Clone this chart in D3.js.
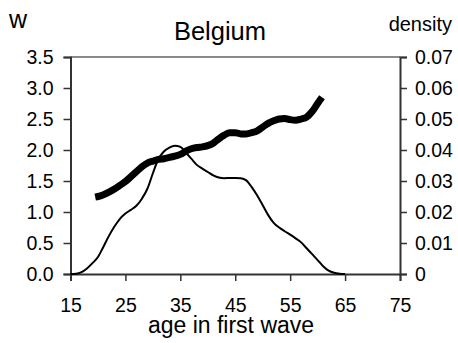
<!DOCTYPE html>
<html>
<head>
<meta charset="utf-8">
<script src="https://cdn.jsdelivr.net/npm/d3@7"></script>
<style>
html,body{margin:0;padding:0;background:#fff;}
svg{display:block;font-family:"Liberation Sans",Arial,sans-serif;}
</style>
</head>
<body>
<svg id="chart" width="458" height="343"></svg>
<script>
// Data
const wAges = [19.5,20,21,22,23,24,25,26,27,28,29,30,31,32,33,34,35,36,37,38,39,40,41,42,43,44,45,46,47,48,49,50,51,52,53,54,55,56,57,58,59,60,60.8];
const wValues = [1.24,1.25,1.28,1.32,1.37,1.43,1.49,1.57,1.65,1.73,1.79,1.82,1.85,1.86,1.88,1.90,1.93,1.98,2.02,2.04,2.05,2.07,2.11,2.18,2.24,2.28,2.28,2.26,2.26,2.28,2.31,2.37,2.43,2.47,2.50,2.51,2.49,2.48,2.50,2.53,2.62,2.75,2.85];
const densityAges = [15,16,17,18,19,20,21,22,23,24,25,26,27,28,29,30,31,32,33,34,35,36,37,38,39,40,41,42,43,44,45,46,47,48,49,50,51,52,53,54,55,56,57,58,59,60,61,62,63,64,65];
const densityValues = [0,0.0001,0.0006,0.0018,0.0035,0.0055,0.0088,0.0123,0.0153,0.0178,0.0195,0.0207,0.0220,0.0243,0.0275,0.0325,0.0370,0.0395,0.0408,0.0414,0.0410,0.0392,0.0372,0.0352,0.0340,0.0329,0.0318,0.0311,0.0309,0.0310,0.0310,0.0309,0.0302,0.0280,0.0253,0.0222,0.0190,0.0165,0.0150,0.0138,0.0127,0.0115,0.0102,0.0083,0.0064,0.0045,0.0025,0.0011,0.0004,0.0001,0];
const xTicks = [15,25,35,45,55,65,75];
const leftTicks = [0,0.5,1,1.5,2,2.5,3,3.5];
const rightTicks = [0,0.01,0.02,0.03,0.04,0.05,0.06,0.07];
const rightTickLabels = ["0","0.01","0.02","0.03","0.04","0.05","0.06","0.07"];
const title = "Belgium";
const xTitle = "age in first wave";
const leftTitle = "w";
const rightTitle = "density";

const svg = d3.select("#chart");
const L = 70.5, R = 400, T = 57, B = 274;
const x = d3.scaleLinear().domain([15,75]).range([L,R]);
const yL = d3.scaleLinear().domain([0,3.5]).range([B,T]);
const yR = d3.scaleLinear().domain([0,0.07]).range([B,T]);
const axisColor = "#333";

// top frame line (gray)
svg.append("line").attr("x1",L).attr("x2",R).attr("y1",T).attr("y2",T)
  .attr("stroke","#8a8a8a").attr("stroke-width",2);

function styleAxis(g){
  g.select(".domain").attr("stroke",axisColor).attr("stroke-width",2);
  g.selectAll(".tick line").attr("stroke",axisColor).attr("stroke-width",1.5);
  g.selectAll(".tick text").attr("fill","#000").attr("font-size","19.5px")
    .attr("font-family",'"Liberation Sans",Arial,sans-serif');
}

const gx = svg.append("g").attr("transform",`translate(0,${B})`)
  .call(d3.axisBottom(x).tickValues(xTicks).tickSizeOuter(0).tickSize(7).tickPadding(17).tickFormat(d3.format("d")));
styleAxis(gx);

const gl = svg.append("g").attr("transform",`translate(${L},0)`)
  .call(d3.axisLeft(yL).tickValues(leftTicks).tickSizeOuter(0).tickSize(7).tickPadding(10).tickFormat(d3.format(".1f")));
styleAxis(gl);

const gr = svg.append("g").attr("transform",`translate(${R},0)`)
  .call(d3.axisRight(yR).tickValues(rightTicks).tickSizeOuter(0).tickSize(7).tickPadding(8).tickFormat((d,i)=>rightTickLabels[i]));
styleAxis(gr);

// density line (thin)
const densityLine = d3.line().x((d,i)=>x(densityAges[i])).y(d=>yR(d)).curve(d3.curveMonotoneX);
svg.append("path").datum(densityValues).attr("d",densityLine)
  .attr("fill","none").attr("stroke","#000").attr("stroke-width",2);

// w line (thick)
const wLine = d3.line().x((d,i)=>x(wAges[i])).y(d=>yL(d)).curve(d3.curveMonotoneX);
svg.append("path").datum(wValues).attr("d",wLine)
  .attr("fill","none").attr("stroke","#000").attr("stroke-width",7).attr("stroke-linejoin","round");

// titles
svg.append("text").attr("x",220).attr("y",40).attr("text-anchor","middle")
  .attr("font-size","25.5px").text(title);
svg.append("text").attr("x",231).attr("y",333).attr("text-anchor","middle")
  .attr("font-size","23px").text(xTitle);
svg.append("text").attr("x",9).attr("y",28).attr("font-size","25px").text(leftTitle);
svg.append("text").attr("x",452).attr("y",31).attr("text-anchor","end")
  .attr("font-size","20px").text(rightTitle);
</script>
</body>
</html>
